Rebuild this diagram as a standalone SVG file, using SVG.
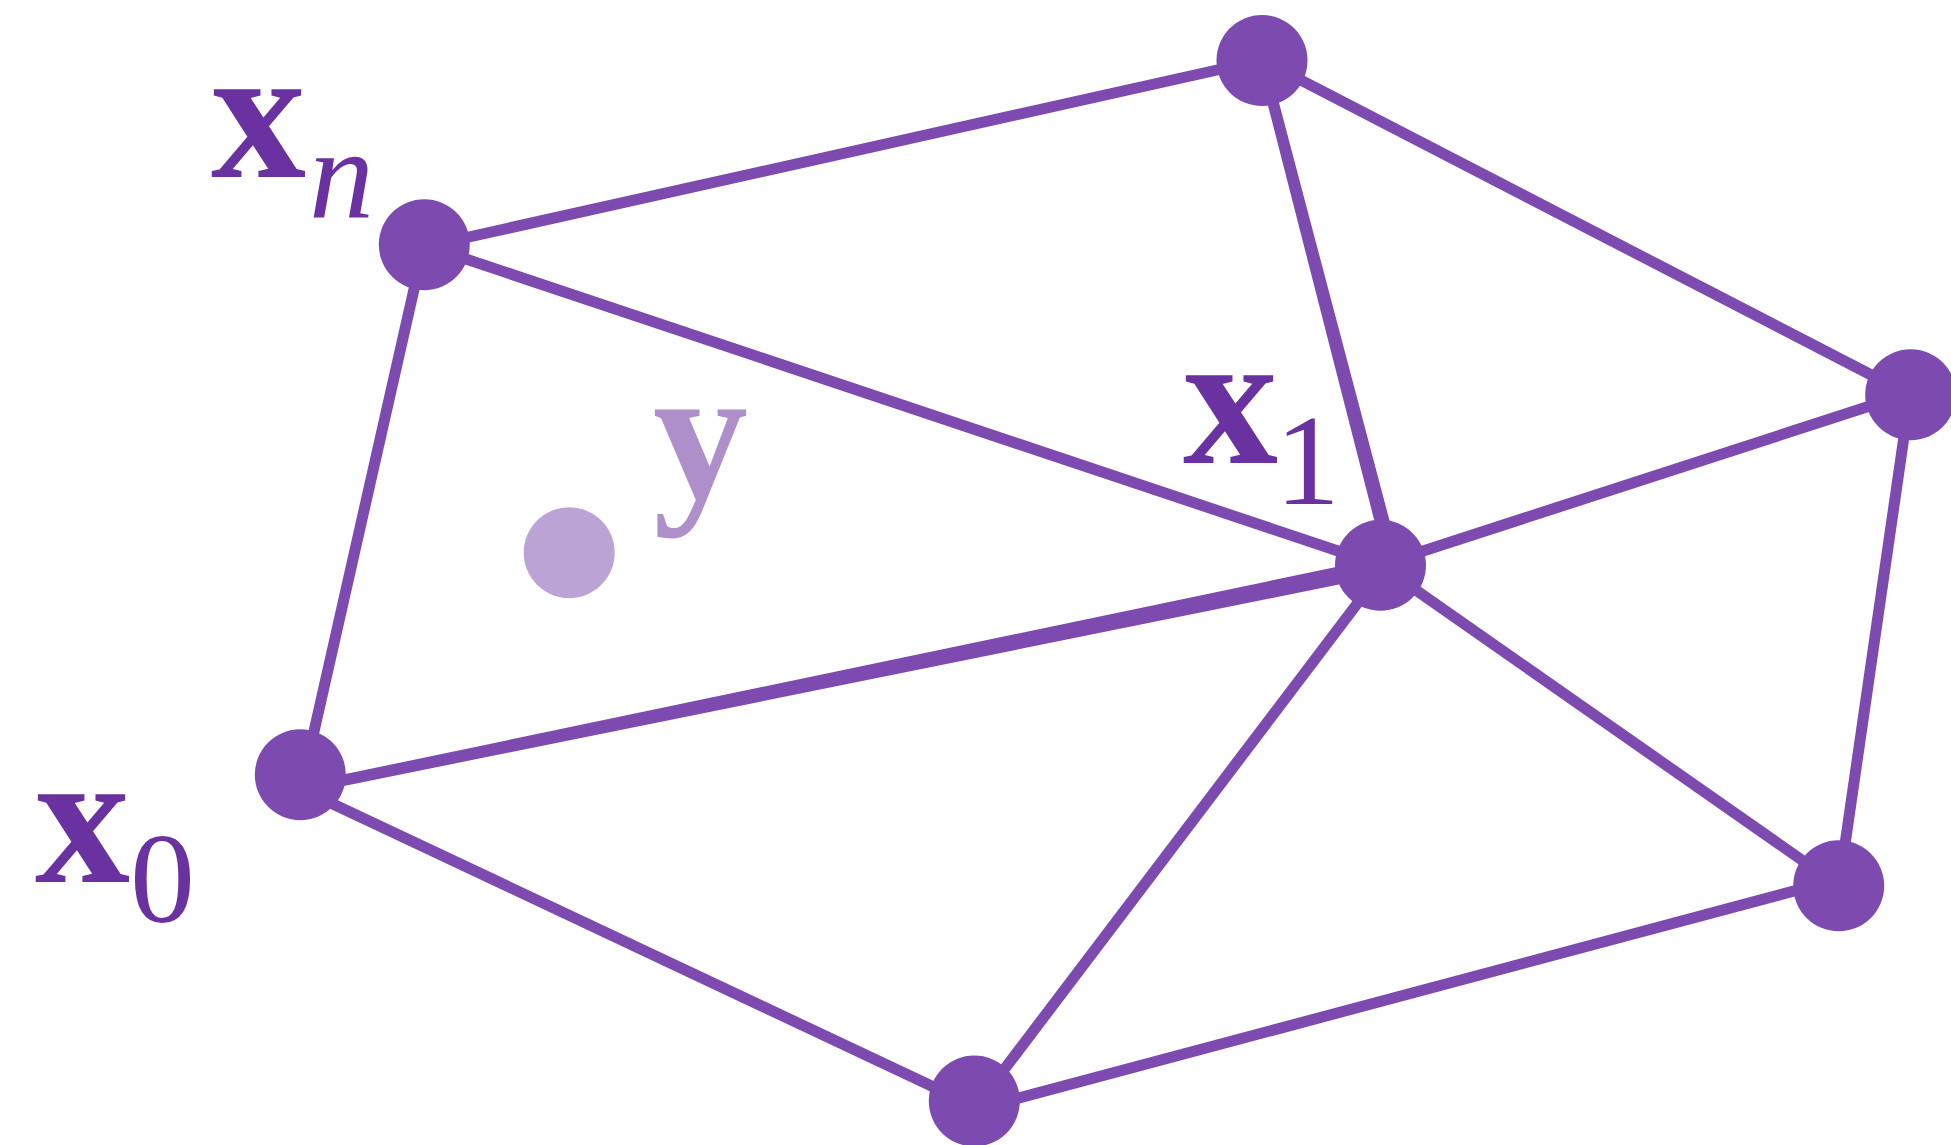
<svg xmlns="http://www.w3.org/2000/svg" width="1951" height="1145" viewBox="0 0 1951 1145">
<style>
.e{stroke:#7d4ab0;stroke-width:11;fill:none}
.t{fill:#7d4ab0}
.n{fill:#7d4ab0}
.lbl{fill:#6a32a0;font-family:"Liberation Serif","Times New Roman",serif}
.b{font-weight:bold;font-size:190px}
.s{font-size:130px}
</style>
<rect width="1951" height="1145" fill="#fff"/>
<g id="connectors">
<line class="e" x1="424" y1="247" x2="1262" y2="60"/>
<polygon class="t" points="1267.3,58.6 1256.7,61.4 1386.7,568.9 1401.3,565.1"/>
<line class="e" x1="1262" y1="60" x2="1910" y2="395"/>
<line class="e" x1="424" y1="245" x2="1380" y2="565"/>
<line class="e" x1="424" y1="245" x2="301" y2="789"/>
<polygon class="t" points="302.1,794.4 299.9,783.6 1378.2,558.2 1381.8,575.8"/>
<line class="e" x1="1380" y1="565" x2="1910" y2="393"/>
<line class="e" x1="1380" y1="565" x2="1839" y2="886"/>
<line class="e" x1="1385" y1="567" x2="978" y2="1104"/>
<line class="e" x1="1910" y1="395" x2="1839" y2="886"/>
<line class="e" x1="301" y1="789" x2="974" y2="1106"/>
<line class="e" x1="974" y1="1110" x2="1839" y2="879"/>
</g>
<g id="node-top"><circle class="n" cx="1262" cy="60.5" r="45.5"/></g>
<g id="node-xn"><circle class="n" cx="424.3" cy="244.7" r="45.5"/>
<text class="lbl b" x="211" y="177">x</text><text class="lbl s" x="309" y="218" font-style="italic">n</text></g>
<g id="node-right"><circle class="n" cx="1910.7" cy="394.7" r="45.5"/></g>
<g id="node-x1"><circle class="n" cx="1380.5" cy="565.3" r="45.5"/>
<text class="lbl b" x="1183" y="463">x</text><text class="lbl s" x="1275" y="504">1</text></g>
<g id="node-y"><circle cx="569.2" cy="552.7" r="45.5" fill="#bca3d6"/>
<text class="lbl b" x="653" y="497" style="fill:#ae8fca">y</text></g>
<g id="node-x0"><circle class="n" cx="300.3" cy="774.7" r="45.5"/>
<text class="lbl b" x="35" y="882">x</text><text class="lbl s" x="130" y="922">0</text></g>
<g id="node-bottom"><circle class="n" cx="974.3" cy="1101" r="45.5"/></g>
<g id="node-br"><circle class="n" cx="1838.7" cy="885.8" r="45.5"/></g>
</svg>
